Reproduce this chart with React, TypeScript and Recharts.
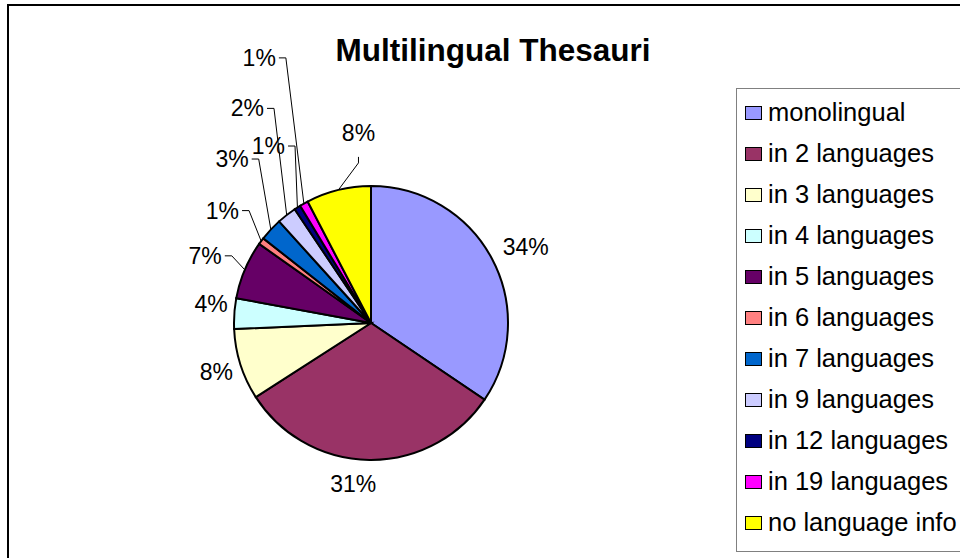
import React from "react";
import { PieChart, Pie, Cell, Legend } from "recharts";

const categories = [
  "monolingual",
  "in 2 languages",
  "in 3 languages",
  "in 4 languages",
  "in 5 languages",
  "in 6 languages",
  "in 7 languages",
  "in 9 languages",
  "in 12 languages",
  "in 19 languages",
  "no language info",
];

// share of thesauri, in percent
const shares = [34.45, 31.45, 8.4, 3.6, 6.9, 0.8, 2.7, 2.3, 0.75, 1.0, 7.65];

const sliceColors = [
  "#9999FF",
  "#993366",
  "#FFFFCC",
  "#CCFFFF",
  "#660066",
  "#FF8080",
  "#0066CC",
  "#CCCCFF",
  "#000080",
  "#FF00FF",
  "#FFFF00",
];

// how far the labels were pulled away from their default spot (px), and where the leader leaves them
const labelShift = [
  [6, 3], [-16, 7], [0, 0], [0, -8],
  [-16, -4], [-18, -15], [-20, -53], [-24, -87], [-16, -41], [-33, -125], [25, -37],
];
const leaderFrom = [null, null, null, null, "left", "left", "left", "left", "left", "left", "below"];

const data = categories.map((name, i) => ({ name, value: shares[i] }));

const FONT = '"Liberation Sans", Arial, sans-serif';
const LABEL_SIZE = 23;

const renderLabel = (p: any) => {
  const { cx, cy, midAngle, outerRadius, percent, index } = p;
  const rad = (midAngle * Math.PI) / 180;
  const c = Math.cos(rad);
  const s = Math.sin(rad);
  const text = `${Math.round(percent * 100)}%`;
  const halfW = (LABEL_SIZE * (0.556 * (text.length - 1) + 0.889)) / 2;
  const halfH = 11;
  const d = outerRadius + 6 + halfW * Math.abs(c) + halfH * Math.abs(s);
  const [dx, dy] = labelShift[index];
  const lx = cx + d * c + dx;
  const ly = cy - d * s + dy;
  const ax = cx + outerRadius * c;
  const ay = cy - outerRadius * s;

  let leader = null;
  if (leaderFrom[index] === "left") {
    const x0 = lx + halfW + 3;
    leader = <polyline points={`${x0},${ly} ${x0 + 7},${ly} ${ax},${ay}`} fill="none" stroke="#000" strokeWidth={1} />;
  } else if (leaderFrom[index] === "below") {
    leader = <polyline points={`${lx},${ly + 24} ${lx},${ly + 30} ${ax},${ay}`} fill="none" stroke="#000" strokeWidth={1} />;
  }

  return (
    <g key={`lbl-${index}`}>
      {leader}
      <text x={lx} y={ly} textAnchor="middle" dominantBaseline="central" fontFamily={FONT} fontSize={LABEL_SIZE} fill="#000">
        {text}
      </text>
    </g>
  );
};

const renderLegend = () => (
  <div style={{ fontFamily: FONT, fontSize: 25.5, color: "#000" }}>
    {categories.map((name, i) => (
      <div key={name} style={{ height: 41, display: "flex", alignItems: "center" }}>
        <span
          style={{
            display: "inline-block",
            boxSizing: "border-box",
            width: 17,
            height: 14,
            background: sliceColors[i],
            border: "1.5px solid #000",
            marginRight: 6,
          }}
        />
        <span>{name}</span>
      </div>
    ))}
  </div>
);

export default function App() {
  return (
    <div style={{ position: "absolute", left: 0, top: 0, width: 960, height: 558, overflow: "hidden", background: "#fff" }}>
      {/* chart area frame */}
      <div style={{ position: "absolute", left: 7, top: 4, width: 1000, height: 600, borderLeft: "2px solid #000", borderTop: "2px solid #000" }} />
      {/* legend box */}
      <div style={{ position: "absolute", left: 736, top: 88, width: 300, height: 462, border: "1.5px solid #808080" }} />
      <div
        style={{
          position: "absolute",
          left: 293,
          width: 400,
          top: 35,
          textAlign: "center",
          fontFamily: FONT,
          fontWeight: "bold",
          fontSize: 31.5,
          lineHeight: "31px",
        }}
      >
        Multilingual Thesauri
      </div>
      <div style={{ position: "absolute", left: 0, top: 0 }}>
        <PieChart width={960} height={558} margin={{ top: 0, right: 0, bottom: 0, left: 0 }}>
          <Pie
            data={data}
            dataKey="value"
            nameKey="name"
            cx={371}
            cy={323}
            outerRadius={137}
            startAngle={90}
            endAngle={-270}
            stroke="#000"
            strokeWidth={2}
            label={renderLabel}
            labelLine={false}
            isAnimationActive={false}
          >
            {data.map((d, i) => (
              <Cell key={d.name} fill={sliceColors[i]} />
            ))}
          </Pie>
          <Legend
            layout="vertical"
            verticalAlign="top"
            align="right"
            wrapperStyle={{ left: 745, top: 92, width: 215 }}
            content={renderLegend}
          />
        </PieChart>
      </div>
    </div>
  );
}
